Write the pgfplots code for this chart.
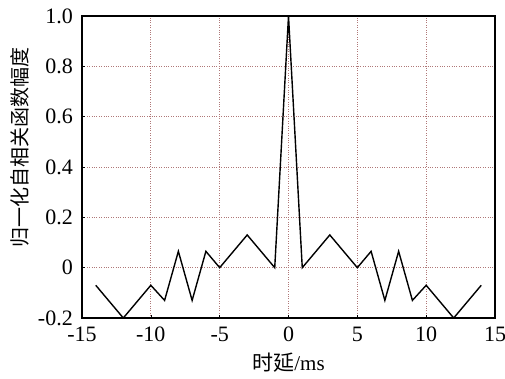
\documentclass[border=0pt]{standalone}
\usepackage{pgfplots}
\pgfplotsset{compat=1.18}
\usepackage{fontspec}
\setmainfont{Liberation Serif}
\newfontfamily\cjk{Noto Sans CJK SC}
\definecolor{gridc}{RGB}{175,120,120}
\begin{document}
\fontsize{21}{25}\selectfont
\begin{tikzpicture}[font=\fontsize{21}{25}\selectfont]
\begin{axis}[name=ax,
  scale only axis, width=413pt, height=302pt,
  xmin=-15, xmax=15, ymin=-0.2, ymax=1.0,
  xtick={-15,-10,...,15},
  ytick={-0.2,0,0.2,0.4,0.6,0.8,1.0},
  yticklabels={-0.2,0,0.2,0.4,0.6,0.8,1.0},
  xticklabels={-15,-10,-5,0,5,10,15},
  tick align=inside, major tick length=3pt,
  tick style={black, line width=0.5pt},
  xtick pos=bottom, ytick pos=left,
  grid=major,
  grid style={gridc, dotted, line width=0.7pt},
  axis line style={line width=1.2pt, black},
  every tick label/.append style={font=\fontsize{22}{26}\selectfont},
  xticklabel style={yshift=-2pt},
  yticklabel style={xshift=-2pt},
  /pgf/number format/assume math mode=true,
  xlabel={{\cjk 时延}/ms},
  ylabel={\fontsize{20}{24}\selectfont\cjk 归一化自相关函数幅度},
  xlabel style={yshift=3pt},
  ylabel style={yshift=-5pt, xshift=20pt},
]
\addplot[black, line width=1.4pt, mark=none] coordinates {
(-14,-0.07) (-12,-0.2) (-10,-0.07) (-9,-0.13) (-8,0.065) (-7,-0.13) (-6,0.065) (-5,0) (-3,0.13) (-1,0) (0,1) (1,0) (3,0.13) (5,0) (6,0.065) (7,-0.13) (8,0.065) (9,-0.13) (10,-0.07) (12,-0.2) (14,-0.07)
};
\end{axis}
\pgfresetboundingbox
\path ([xshift=-82pt,yshift=-60pt]ax.south west) rectangle ([xshift=10pt,yshift=16pt]ax.north east);
\end{tikzpicture}
\end{document}
